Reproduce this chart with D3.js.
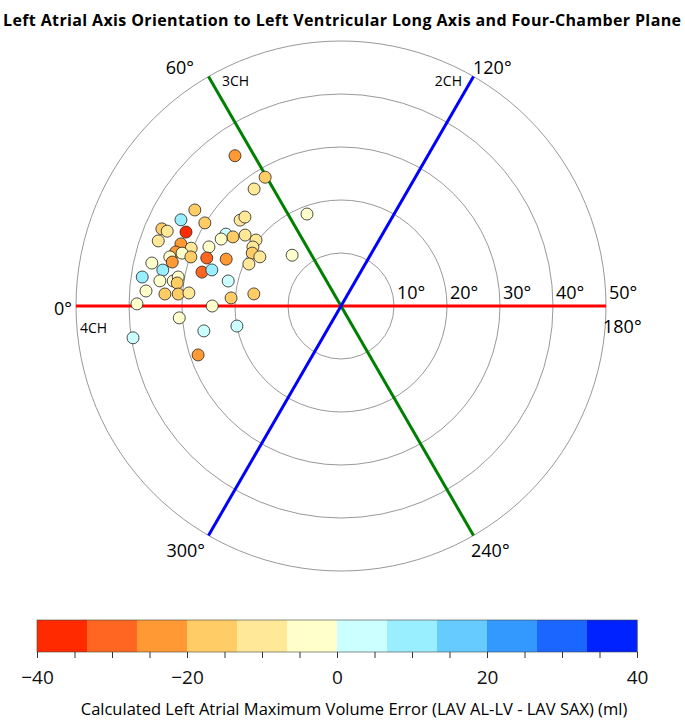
<!DOCTYPE html>
<html><head><meta charset="utf-8">
<script src="https://cdn.jsdelivr.net/npm/d3@7"></script>
<style>body{margin:0;background:#fff}text{font-family:"Open Sans",sans-serif}</style>
</head><body><svg width="685" height="720"></svg>
<script>
// polar data: angle (deg, 0 = 4CH on left), radius (deg), volume error (ml)
const angles = [54.8,59.5,53.4,69.7,33.3,28.3,31.4,40.4,42.8,23.3,23.3,25.5,19.6,32.0,32.6,36.5,29.2,37.8,21.2,18.1,21.1,18.4,24.1,33.8,30.8,31.2,46.1,16.0,18.1,19.7,22.2,12.8,14.6,24.5,11.4,13.7,15.6,8.3,7.9,8.5,10.1,8.0,12.5,4.4,3.9,4.2,4.9,4.2,7.9,0.6,0,355.8,349.1,351.3,349.7,341.1];
const radii = [34.7,28.2,27.5,18.5,33.0,34.3,30.1,25.0,24.7,36.8,35.7,32.4,36.6,25.6,24.2,22.5,25.9,20.3,32.4,32.8,30.3,31.6,27.3,20.0,19.5,17.9,13.3,33.6,29.8,26.9,23.4,36.6,32.9,19.1,34.3,27.0,25.3,37.9,34.5,32.0,31.2,31.2,21.8,36.9,33.3,30.8,28.8,20.8,16.6,38.5,24.3,30.6,20.0,39.7,26.3,28.5];
const errors = [-25,-18,-10,-5,-18,8,-20,-10,-10,-15,-10,-38,-12,3,-18,-10,-5,-10,-25,-25,-13,-6,-5,-8,-15,-10,-6,-6,-15,-30,-23,-5,-25,-10,8,-32,12,12,-5,-6,-6,-18,3,-6,-15,-18,-8,-15,-20,-5,-5,-5,3,3,3,-25];
const rings = [10,20,30,40,50];
const binColors = ["#ff2a00","#ff6622","#ff9933","#ffcc66","#ffe999","#ffffcc","#ccffff","#99eeff","#66ccff","#3399ff","#1a66ff","#0022ff"];
const cbTicks = [-40,-20,0,20,40];
const planes = [{a:0,c:"#ff0000"},{a:60,c:"#008000"},{a:120,c:"#0000ff"}];

const svg = d3.select("svg");
const cx = 341, cy = 306;
const r = d3.scaleLinear().domain([0,50]).range([0,265]);
const px = (a,d) => cx - r(d)*Math.cos(a*Math.PI/180);
const py = (a,d) => cy - r(d)*Math.sin(a*Math.PI/180);
const color = d3.scaleQuantize().domain([-40,40]).range(binColors);

svg.append("text").attr("x",342).attr("y",26).attr("text-anchor","middle")
  .attr("font-size",16).attr("font-weight","bold").attr("textLength",678)
  .text("Left Atrial Axis Orientation to Left Ventricular Long Axis and Four-Chamber Plane");

svg.selectAll("circle.ring").data(rings).join("circle").attr("class","ring")
  .attr("cx",cx).attr("cy",cy).attr("r",d=>r(d))
  .attr("fill","none").attr("stroke","#999").attr("stroke-width",1);

svg.selectAll("line.plane").data(planes).join("line")
  .attr("x1",d=>px(d.a,50)).attr("y1",d=>py(d.a,50))
  .attr("x2",d=>px(d.a+180,50)).attr("y2",d=>py(d.a+180,50))
  .attr("stroke",d=>d.c).attr("stroke-width",3);

svg.selectAll("text.rl").data(rings).join("text")
  .attr("x",d=>cx+r(d)+3).attr("y",cy-7).attr("font-size",18).text(d=>d+"°");

const lab = (x,y,t,s,anchor) => svg.append("text").attr("x",x).attr("y",y)
  .attr("font-size",s).attr("text-anchor",anchor||"start").text(t);
lab(72,315,"0°",18,"end");
lab(80,333,"4CH",14);
lab(603,333,"180°",18);
lab(194,74,"60°",18,"end");
lab(222,86,"3CH",14);
lab(473,74,"120°",18);
lab(462,86,"2CH",14,"end");
lab(205,557,"300°",18,"end");
lab(471,557,"240°",18);

svg.selectAll("circle.pt").data(errors).join("circle").attr("class","pt")
  .attr("cx",(d,i)=>px(angles[i],radii[i])).attr("cy",(d,i)=>py(angles[i],radii[i]))
  .attr("r",6).attr("fill",d=>color(d)).attr("stroke","#222").attr("stroke-width",0.8);

// colorbar
const x = d3.scaleLinear().domain([-40,40]).range([37,637]);
const step = 80/binColors.length;
svg.selectAll("rect.bin").data(binColors).join("rect")
  .attr("x",(d,i)=>x(-40+i*step)).attr("y",620)
  .attr("width",x(step)-x(0)+0.5).attr("height",32).attr("fill",d=>d);
svg.append("rect").attr("x",37).attr("y",620).attr("width",600).attr("height",32)
  .attr("fill","none").attr("stroke","#444").attr("stroke-width",0.6);
const ax = svg.append("g").attr("transform","translate(0,652)")
  .call(d3.axisBottom(x).tickValues(d3.range(-40,41,5)).tickSize(6).tickFormat(d=>cbTicks.includes(d)?d3.format("")(d).replace("-","−"):""));
ax.select(".domain").remove();
ax.selectAll("line").attr("stroke","#333");
ax.selectAll("text").attr("font-size",19).attr("dy","1.2em").attr("fill","#111");
svg.append("text").attr("x",354).attr("y",715).attr("text-anchor","middle").attr("font-size",16.5)
  .text("Calculated Left Atrial Maximum Volume Error (LAV AL-LV - LAV SAX) (ml)");
</script></body></html>
